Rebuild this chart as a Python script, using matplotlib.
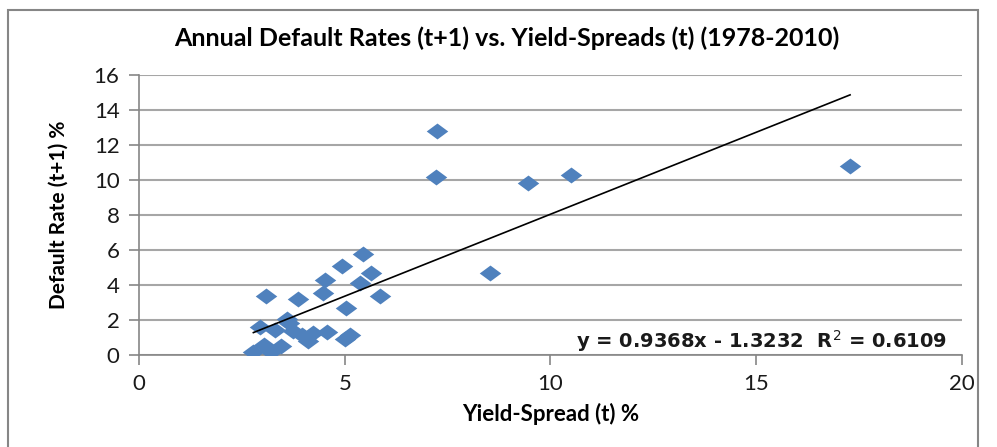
import numpy as np
import matplotlib
matplotlib.use('Agg')
import matplotlib.pyplot as plt
from matplotlib.path import Path
from matplotlib.patches import Rectangle

# yield spread at year t (%) and default rate at year t+1 (%)
spread = [7.24, 7.22, 9.45, 10.50, 17.28, 8.53,
          5.44, 4.93, 5.64, 4.52, 5.37, 5.86, 4.47, 3.09, 3.86, 5.03,
          2.78, 3.05, 3.22, 3.45, 2.95, 3.30, 3.59, 3.75, 3.95, 4.10,
          4.24, 4.56, 5.00, 5.13, 3.65]
default = [12.80, 10.17, 9.83, 10.29, 10.80, 4.69,
           5.77, 5.09, 4.69, 4.29, 4.11, 3.37, 3.54, 3.37, 3.18, 2.69,
           0.20, 0.57, 0.19, 0.50, 1.62, 1.45, 2.05, 1.40, 1.15, 0.80,
           1.25, 1.33, 0.90, 1.14, 1.85]

slope = 0.9368
intercept = -1.3232
r2 = 0.6109

title = 'Annual Default Rates (t+1) vs. Yield-Spreads (t) (1978-2010)'
xlabel = 'Yield-Spread (t) %'
ylabel = 'Default Rate (t+1) %'

blue = '#4F81BD'
grid_col = '#A6A6A6'
axis_col = '#868686'

fig = plt.figure(figsize=(9.97, 4.47), dpi=100)
ax = fig.add_axes([0.1394, 0.2058, 0.8255, 0.6264])

# flattened diamond marker
diamond = Path([(0, 0.74), (1, 0), (0, -0.74), (-1, 0), (0, 0.74)],
               [Path.MOVETO, Path.LINETO, Path.LINETO, Path.LINETO, Path.CLOSEPOLY])
ax.plot(spread, default, linestyle='none', marker=diamond, markersize=15.5,
        color=blue, markeredgewidth=0, zorder=3)

# linear trend line over the data range
xs = np.array([min(spread), max(spread)])
ax.plot(xs, slope * xs + intercept, color='black', lw=1.2, zorder=4)

ax.set_xlim(0, 20)
ax.set_ylim(0, 16)
ax.set_xticks(np.arange(0, 21, 5))
ax.set_yticks(np.arange(0, 17, 2))
ax.yaxis.grid(True, color=grid_col, lw=1.5)
ax.set_axisbelow(True)
for s in ['top', 'right']:
    ax.spines[s].set_visible(False)
for s in ['left', 'bottom']:
    ax.spines[s].set_color(axis_col)
    ax.spines[s].set_linewidth(1.2)
ax.tick_params(direction='out', length=7, width=1.2, color=axis_col,
               labelsize=16, labelcolor='#1a1a1a', pad=7)
for lab in ax.get_xticklabels() + ax.get_yticklabels():
    lab.set_family('Lato')

ax.set_xlabel(xlabel, fontsize=16, fontweight='bold', family='Lato', labelpad=6)
ax.set_ylabel(ylabel, fontsize=15, fontweight='bold', family='Lato', labelpad=18)
fig.text(0.508, 0.915, title, ha='center', va='center', fontsize=18,
         fontweight='bold', family='Lato')

ax.text(0.982, 0.05, 'y = %.4fx - %.4f  R$^2$ = %.4f' % (slope, -intercept, r2),
        transform=ax.transAxes, ha='right', va='center', fontsize=14,
        fontweight='bold', family='DejaVu Sans', color='#1a1a1a')

# chart area frame
fig.patches.append(Rectangle((8 / 997, -0.1), 970 / 997, 1.1 - 10 / 447,
                             transform=fig.transFigure, fill=False,
                             edgecolor=axis_col, lw=1.5))

fig.savefig('out.png', dpi=100)
